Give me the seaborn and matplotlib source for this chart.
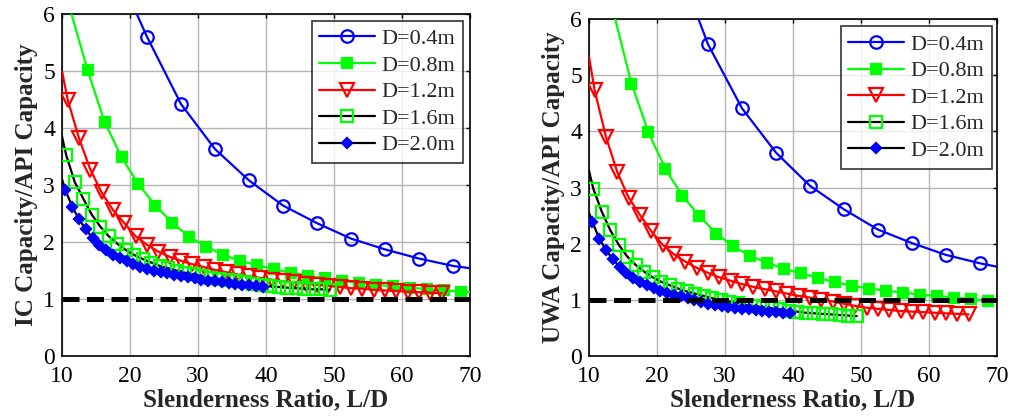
import numpy as np
import seaborn as sns
import matplotlib.pyplot as plt
from matplotlib.lines import Line2D

# ---- left panel: IC capacity / API capacity ----
ic_x_04 = [22.5, 27.5, 32.5, 37.5, 42.5, 47.5, 52.5, 57.5, 62.5, 67.5]
ic_y_04 = [5.60, 4.42, 3.63, 3.08, 2.64, 2.33, 2.06, 1.87, 1.71, 1.58]
ic_line_04 = ([17.5], [6.93], [70.0], [1.54])  # x start, y start, x end, y end

ic_x_08 = [13.75, 16.25, 18.75, 21.25, 23.75, 26.25, 28.75, 31.25, 33.75, 36.25, 38.75, 41.25,
           43.75, 46.25, 48.75, 51.25, 53.75, 56.25, 58.75, 61.25, 63.75, 66.25, 68.75]
ic_y_08 = [5.02, 4.11, 3.49, 3.01, 2.64, 2.33, 2.09, 1.92, 1.77, 1.67, 1.59, 1.52,
           1.46, 1.41, 1.36, 1.32, 1.28, 1.25, 1.22, 1.20, 1.17, 1.15, 1.13]
ic_line_08 = ([11.25], [6.06], [70.0], [1.12])

ic_x_12 = [10.83, 12.5, 14.17, 15.83, 17.5, 19.17, 20.83, 22.5, 24.17, 25.83, 27.5, 29.17,
           30.83, 32.5, 34.17, 35.83, 37.5, 39.17, 40.83, 42.5, 44.17, 45.83, 47.5, 49.17,
           50.83, 52.5, 54.17, 55.83, 57.5, 59.17, 60.83, 62.5, 64.17, 65.83]
ic_y_12 = [4.50, 3.82, 3.27, 2.87, 2.56, 2.33, 2.10, 1.95, 1.83, 1.74, 1.67, 1.61,
           1.56, 1.51, 1.47, 1.43, 1.40, 1.37, 1.34, 1.31, 1.29, 1.27, 1.25, 1.23,
           1.21, 1.19, 1.18, 1.16, 1.15, 1.14, 1.13, 1.12, 1.11, 1.10]
ic_line_12 = ([10.0], [5.00], [], [])

ic_x_16 = [10.63, 11.88, 13.13, 14.38, 15.63, 16.88, 18.13, 19.38, 20.63, 21.88, 23.13, 24.38,
           25.63, 26.88, 28.13, 29.38, 30.63, 31.88, 33.13, 34.38, 35.63, 36.88, 38.13, 39.38,
           40.63, 41.88, 43.13, 44.38, 45.63, 46.88, 48.13, 49.38]
ic_y_16 = [3.52, 3.05, 2.76, 2.48, 2.27, 2.10, 1.97, 1.86, 1.77, 1.70, 1.64, 1.58,
           1.54, 1.50, 1.46, 1.43, 1.40, 1.37, 1.35, 1.33, 1.31, 1.29, 1.27, 1.25,
           1.22, 1.21, 1.20, 1.19, 1.18, 1.17, 1.17, 1.16]
ic_line_16 = ([10.0], [3.85], [], [])

ic_x_20 = [10.5, 11.5, 12.5, 13.5, 14.5, 15.5, 16.5, 17.5, 18.5, 19.5, 20.5, 21.5, 22.5, 23.5, 24.5,
           25.5, 26.5, 27.5, 28.5, 29.5, 30.5, 31.5, 32.5, 33.5, 34.5, 35.5, 36.5, 37.5, 38.5, 39.5]
ic_y_20 = [2.91, 2.62, 2.40, 2.22, 2.07, 1.95, 1.86, 1.78, 1.72, 1.66, 1.61, 1.57, 1.53, 1.50, 1.47,
           1.45, 1.42, 1.40, 1.38, 1.36, 1.34, 1.32, 1.31, 1.29, 1.28, 1.26, 1.25, 1.24, 1.22, 1.21]
ic_line_20 = ([10.0], [3.10], [], [])

# ---- right panel: UWA capacity / API capacity ----
uwa_x_04 = [27.5, 32.5, 37.5, 42.5, 47.5, 52.5, 57.5, 62.5, 67.5]
uwa_y_04 = [5.55, 4.41, 3.62, 3.03, 2.61, 2.25, 2.01, 1.80, 1.65]
uwa_line_04 = ([22.5], [7.15], [70.0], [1.59])

uwa_x_08 = [16.25, 18.75, 21.25, 23.75, 26.25, 28.75, 31.25, 33.75, 36.25, 38.75, 41.25,
            43.75, 46.25, 48.75, 51.25, 53.75, 56.25, 58.75, 61.25, 63.75, 66.25, 68.75]
uwa_y_08 = [4.85, 3.98, 3.33, 2.85, 2.49, 2.18, 1.95, 1.78, 1.66, 1.55, 1.47,
            1.39, 1.31, 1.25, 1.20, 1.16, 1.13, 1.09, 1.07, 1.04, 1.01, 0.98]
uwa_line_08 = ([13.75], [6.05], [70.0], [0.97])

uwa_x_12 = ic_x_12
uwa_y_12 = [4.73, 3.90, 3.27, 2.82, 2.51, 2.22, 1.98, 1.81, 1.68, 1.57, 1.48, 1.40,
            1.34, 1.28, 1.23, 1.19, 1.15, 1.11, 1.07, 1.04, 1.00, 0.97, 0.93, 0.89,
            0.86, 0.84, 0.82, 0.80, 0.79, 0.78, 0.77, 0.76, 0.75, 0.74]
uwa_line_12 = ([10.0], [5.33], [], [])

uwa_x_16 = ic_x_16
uwa_y_16 = [2.98, 2.57, 2.24, 1.98, 1.77, 1.62, 1.50, 1.40, 1.32, 1.26, 1.20, 1.15,
            1.11, 1.07, 1.03, 1.00, 0.97, 0.95, 0.91, 0.89, 0.87, 0.85, 0.83, 0.81,
            0.79, 0.77, 0.76, 0.75, 0.74, 0.73, 0.72, 0.71]
uwa_line_16 = ([10.0], [3.30], [], [])

uwa_x_20 = ic_x_20
uwa_y_20 = [2.39, 2.09, 1.89, 1.72, 1.59, 1.48, 1.39, 1.32, 1.26, 1.21, 1.16, 1.12, 1.09, 1.06, 1.03,
            1.00, 0.97, 0.93, 0.91, 0.89, 0.87, 0.86, 0.84, 0.83, 0.82, 0.80, 0.79, 0.78, 0.77, 0.76]
uwa_line_20 = ([10.0], [2.55], [], [])

labels = ['D=0.4m', 'D=0.8m', 'D=1.2m', 'D=1.6m', 'D=2.0m']
ylabels = ['IC Capacity/API Capacity', 'UWA Capacity/API Capacity']

BLUE, GREEN, RED, BLACK = '#0000ff', '#00ff00', '#ff0000', '#000000'
# line colour, marker, marker size, marker face, marker edge
styles = [
    (BLUE, 'o', 9, 'none', BLUE),
    (GREEN, 's', 7.5, GREEN, GREEN),
    (RED, 'v', 9.5, 'none', RED),
    (BLACK, 's', 8.5, 'none', GREEN),
    (BLACK, 'D', 5.5, BLUE, BLUE),
]

sns.set_style('white')
plt.rcParams['font.family'] = ['Liberation Serif', 'DejaVu Serif']

fig = plt.figure(figsize=(10.12, 4.2), dpi=100)
ax1 = fig.add_axes([62 / 1012, 1 - 356 / 420, 408 / 1012, 342 / 420])
ax2 = fig.add_axes([589 / 1012, 1 - 356 / 420, 408 / 1012, 337 / 420])

panels = [
    (ax1, [(ic_x_04, ic_y_04, ic_line_04), (ic_x_08, ic_y_08, ic_line_08), (ic_x_12, ic_y_12, ic_line_12),
           (ic_x_16, ic_y_16, ic_line_16), (ic_x_20, ic_y_20, ic_line_20)], ylabels[0], (0.983, 0.98)),
    (ax2, [(uwa_x_04, uwa_y_04, uwa_line_04), (uwa_x_08, uwa_y_08, uwa_line_08), (uwa_x_12, uwa_y_12, uwa_line_12),
           (uwa_x_16, uwa_y_16, uwa_line_16), (uwa_x_20, uwa_y_20, uwa_line_20)], ylabels[1], (0.988, 0.978)),
]

for ax, series, ylab, anchor in panels:
    for i, ((xs, ys, ln), st) in enumerate(zip(series, styles)):
        lc, mk, ms, mfc, mec = st
        lx = ln[0] + xs + ln[2]
        ly = ln[1] + ys + ln[3]
        sns.lineplot(x=lx, y=ly, color=lc, linewidth=1.6, estimator=None, sort=False,
                     ax=ax, zorder=3 + 2 * i)
        sns.lineplot(x=xs, y=ys, color=mec, linestyle='none', marker=mk, markersize=ms,
                     markerfacecolor=mfc, markeredgecolor=mec, markeredgewidth=1.6,
                     estimator=None, sort=False, ax=ax, zorder=4 + 2 * i)
    ax.axhline(1.0, color='black', linewidth=3.6, dashes=(3.4, 1.5), zorder=20)

    ax.set_xlim(10, 70)
    ax.set_ylim(0, 6)
    ax.set_xticks([10, 20, 30, 40, 50, 60, 70])
    ax.set_yticks([0, 1, 2, 3, 4, 5, 6])
    ax.grid(True, color='#b4b4b4', linewidth=1.0)
    ax.set_axisbelow(True)
    ax.tick_params(direction='in', length=3, width=1, top=True, right=True,
                   labelsize=17, colors='black')
    ax.tick_params(axis='x', pad=7)
    ax.tick_params(axis='y', pad=5)
    for s in ax.spines.values():
        s.set_color('black')
        s.set_linewidth(1.2)
    ax.set_xlabel('Slenderness Ratio, L/D', fontsize=18, fontweight='bold', labelpad=1)
    ax.set_ylabel(ylab, fontsize=18, fontweight='bold', labelpad=4)

    handles = []
    for lc, mk, ms, mfc, mec in styles:
        handles.append(Line2D([], [], color=lc, linewidth=1.6, marker=mk, markersize=ms,
                              markerfacecolor=mfc, markeredgecolor=mec, markeredgewidth=1.6))
    leg = ax.legend(handles, labels, loc='upper right', bbox_to_anchor=anchor,
                    borderaxespad=0, fontsize=16, handlelength=2.5, handletextpad=0.3,
                    labelspacing=0.27, borderpad=0.35, frameon=True, fancybox=False)
    leg.get_frame().set_edgecolor('black')
    leg.get_frame().set_linewidth(1.2)
    leg.set_zorder(30)

fig.savefig('out.png', dpi=100)
